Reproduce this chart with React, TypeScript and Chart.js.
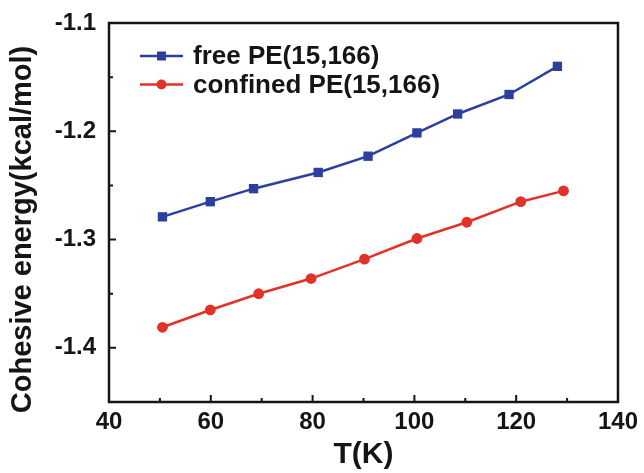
import React, { useEffect, useRef } from "react";
import { Chart, registerables } from "chart.js";

Chart.register(...registerables);

// ---- data ----
const seriesLabels = ["free PE(15,166)", "confined PE(15,166)"];
const xFree = [50.5, 59.9, 68.4, 81.1, 90.9, 100.5, 108.5, 118.6, 128.1];
const yFree = [-1.279, -1.265, -1.253, -1.238, -1.223, -1.2015, -1.184, -1.166, -1.14];
const xConf = [50.5, 59.9, 69.4, 79.7, 90.2, 100.5, 110.3, 120.9, 129.3];
const yConf = [-1.381, -1.365, -1.35, -1.336, -1.318, -1.299, -1.284, -1.265, -1.255];

const xMajorTicks = [40, 60, 80, 100, 120, 140];
const xMinorTicks = [50, 70, 90, 110, 130];
const yMajorTicks = [-1.4, -1.3, -1.2, -1.1];
const yMinorTicks = [-1.35, -1.25, -1.15];
const xRange = [40, 140];
const yRange = [-1.45, -1.1];
const xTitle = "T(K)";
const yTitle = "Cohesive energy(kcal/mol)";

const BLUE = "#2b3f9f";
const RED = "#e1322a";
const INK = "#151515";
const FONT = 'Arial, "Liberation Sans", Helvetica, sans-serif';

const framePlugin = {
  id: "frame",
  afterDraw(chart: any) {
    const { ctx, chartArea } = chart;
    const { left, right, top, bottom } = chartArea;
    const xs = chart.scales.x;
    const ys = chart.scales.y;
    ctx.save();
    ctx.strokeStyle = INK;
    ctx.lineWidth = 2.5;
    ctx.strokeRect(left, top, right - left, bottom - top);
    ctx.lineWidth = 2;
    ctx.beginPath();
    xMajorTicks.forEach((v) => {
      const px = xs.getPixelForValue(v);
      ctx.moveTo(px, bottom);
      ctx.lineTo(px, bottom - 7);
    });
    xMinorTicks.forEach((v) => {
      const px = xs.getPixelForValue(v);
      ctx.moveTo(px, bottom);
      ctx.lineTo(px, bottom - 4);
    });
    yMajorTicks.forEach((v) => {
      const py = ys.getPixelForValue(v);
      ctx.moveTo(left, py);
      ctx.lineTo(left + 7, py);
    });
    yMinorTicks.forEach((v) => {
      const py = ys.getPixelForValue(v);
      ctx.moveTo(left, py);
      ctx.lineTo(left + 4, py);
    });
    ctx.stroke();

    // y title
    ctx.save();
    ctx.translate(23, (top + bottom) / 2 + 17);
    ctx.rotate(-Math.PI / 2);
    ctx.fillStyle = INK;
    ctx.font = `bold 29px ${FONT}`;
    ctx.textAlign = "center";
    ctx.textBaseline = "middle";
    ctx.fillText(yTitle, 0, 0);
    ctx.restore();

    // legend
    const rows = [
      { color: BLUE, style: "rect", label: seriesLabels[0] },
      { color: RED, style: "circle", label: seriesLabels[1] },
    ];
    rows.forEach((r, i) => {
      const cy = top + 33 + i * 28.5;
      const x0 = left + 31;
      const x1 = left + 74;
      const cx = (x0 + x1) / 2;
      ctx.strokeStyle = r.color;
      ctx.lineWidth = 2.5;
      ctx.beginPath();
      ctx.moveTo(x0, cy);
      ctx.lineTo(x1, cy);
      ctx.stroke();
      ctx.fillStyle = r.color;
      if (r.style === "rect") {
        ctx.fillRect(cx - 4.5, cy - 4.5, 9, 9);
      } else {
        ctx.beginPath();
        ctx.arc(cx, cy, 5, 0, Math.PI * 2);
        ctx.fill();
      }
      ctx.fillStyle = INK;
      ctx.font = `bold 26px ${FONT}`;
      ctx.textAlign = "left";
      ctx.textBaseline = "middle";
      ctx.fillText(r.label, left + 84, cy + 1);
    });
    ctx.restore();
  },
};

export default function App() {
  const ref = useRef<HTMLCanvasElement | null>(null);
  useEffect(() => {
    document.body.style.margin = "0";
    const canvas = ref.current;
    if (!canvas) return;
    const chart = new Chart(canvas, {
      type: "scatter",
      data: {
        datasets: [
          {
            label: seriesLabels[0],
            data: xFree.map((x, i) => ({ x, y: yFree[i] })),
            showLine: true,
            borderColor: BLUE,
            backgroundColor: BLUE,
            borderWidth: 2.5,
            pointStyle: "rect",
            pointRadius: 6.6,
            pointBorderWidth: 0,
          },
          {
            label: seriesLabels[1],
            data: xConf.map((x, i) => ({ x, y: yConf[i] })),
            showLine: true,
            borderColor: RED,
            backgroundColor: RED,
            borderWidth: 2.5,
            pointStyle: "circle",
            pointRadius: 5.4,
            pointBorderWidth: 0,
          },
        ],
      },
      options: {
        responsive: false,
        animation: false,
        devicePixelRatio: 1,
        layout: { padding: { top: 23, right: 24, left: 0, bottom: 0 } },
        plugins: { legend: { display: false }, tooltip: { enabled: false } },
        scales: {
          x: {
            type: "linear",
            min: xRange[0],
            max: xRange[1],
            afterFit: (s: any) => {
              s.height = 71;
            },
            afterBuildTicks: (s: any) => {
              s.ticks = xMajorTicks.map((v) => ({ value: v }));
            },
            grid: { display: false, drawTicks: false, tickLength: 0 },
            border: { display: false },
            ticks: {
              padding: 6,
              color: INK,
              font: { family: FONT, size: 24, weight: "bold" },
              maxRotation: 0,
              autoSkip: false,
              callback: (v: any) => String(v),
            },
            title: {
              display: true,
              text: xTitle,
              color: INK,
              font: { family: FONT, size: 30, weight: "bold" },
              padding: { top: 0, bottom: 0 },
            },
          },
          y: {
            type: "linear",
            min: yRange[0],
            max: yRange[1],
            afterFit: (s: any) => {
              s.width = 109;
            },
            afterBuildTicks: (s: any) => {
              s.ticks = yMajorTicks.map((v) => ({ value: v }));
            },
            grid: { display: false, drawTicks: false, tickLength: 0 },
            border: { display: false },
            ticks: {
              padding: 13,
              color: INK,
              font: { family: FONT, size: 24, weight: "bold", lineHeight: 0.8 },
              autoSkip: false,
              callback: (v: any) => Number(v).toFixed(1),
            },
          },
        },
      },
      plugins: [framePlugin],
    } as any);
    return () => chart.destroy();
  }, []);
  return (
    <div style={{ width: 644, height: 473 }}>
      <canvas ref={ref} width={644} height={473} />
    </div>
  );
}
